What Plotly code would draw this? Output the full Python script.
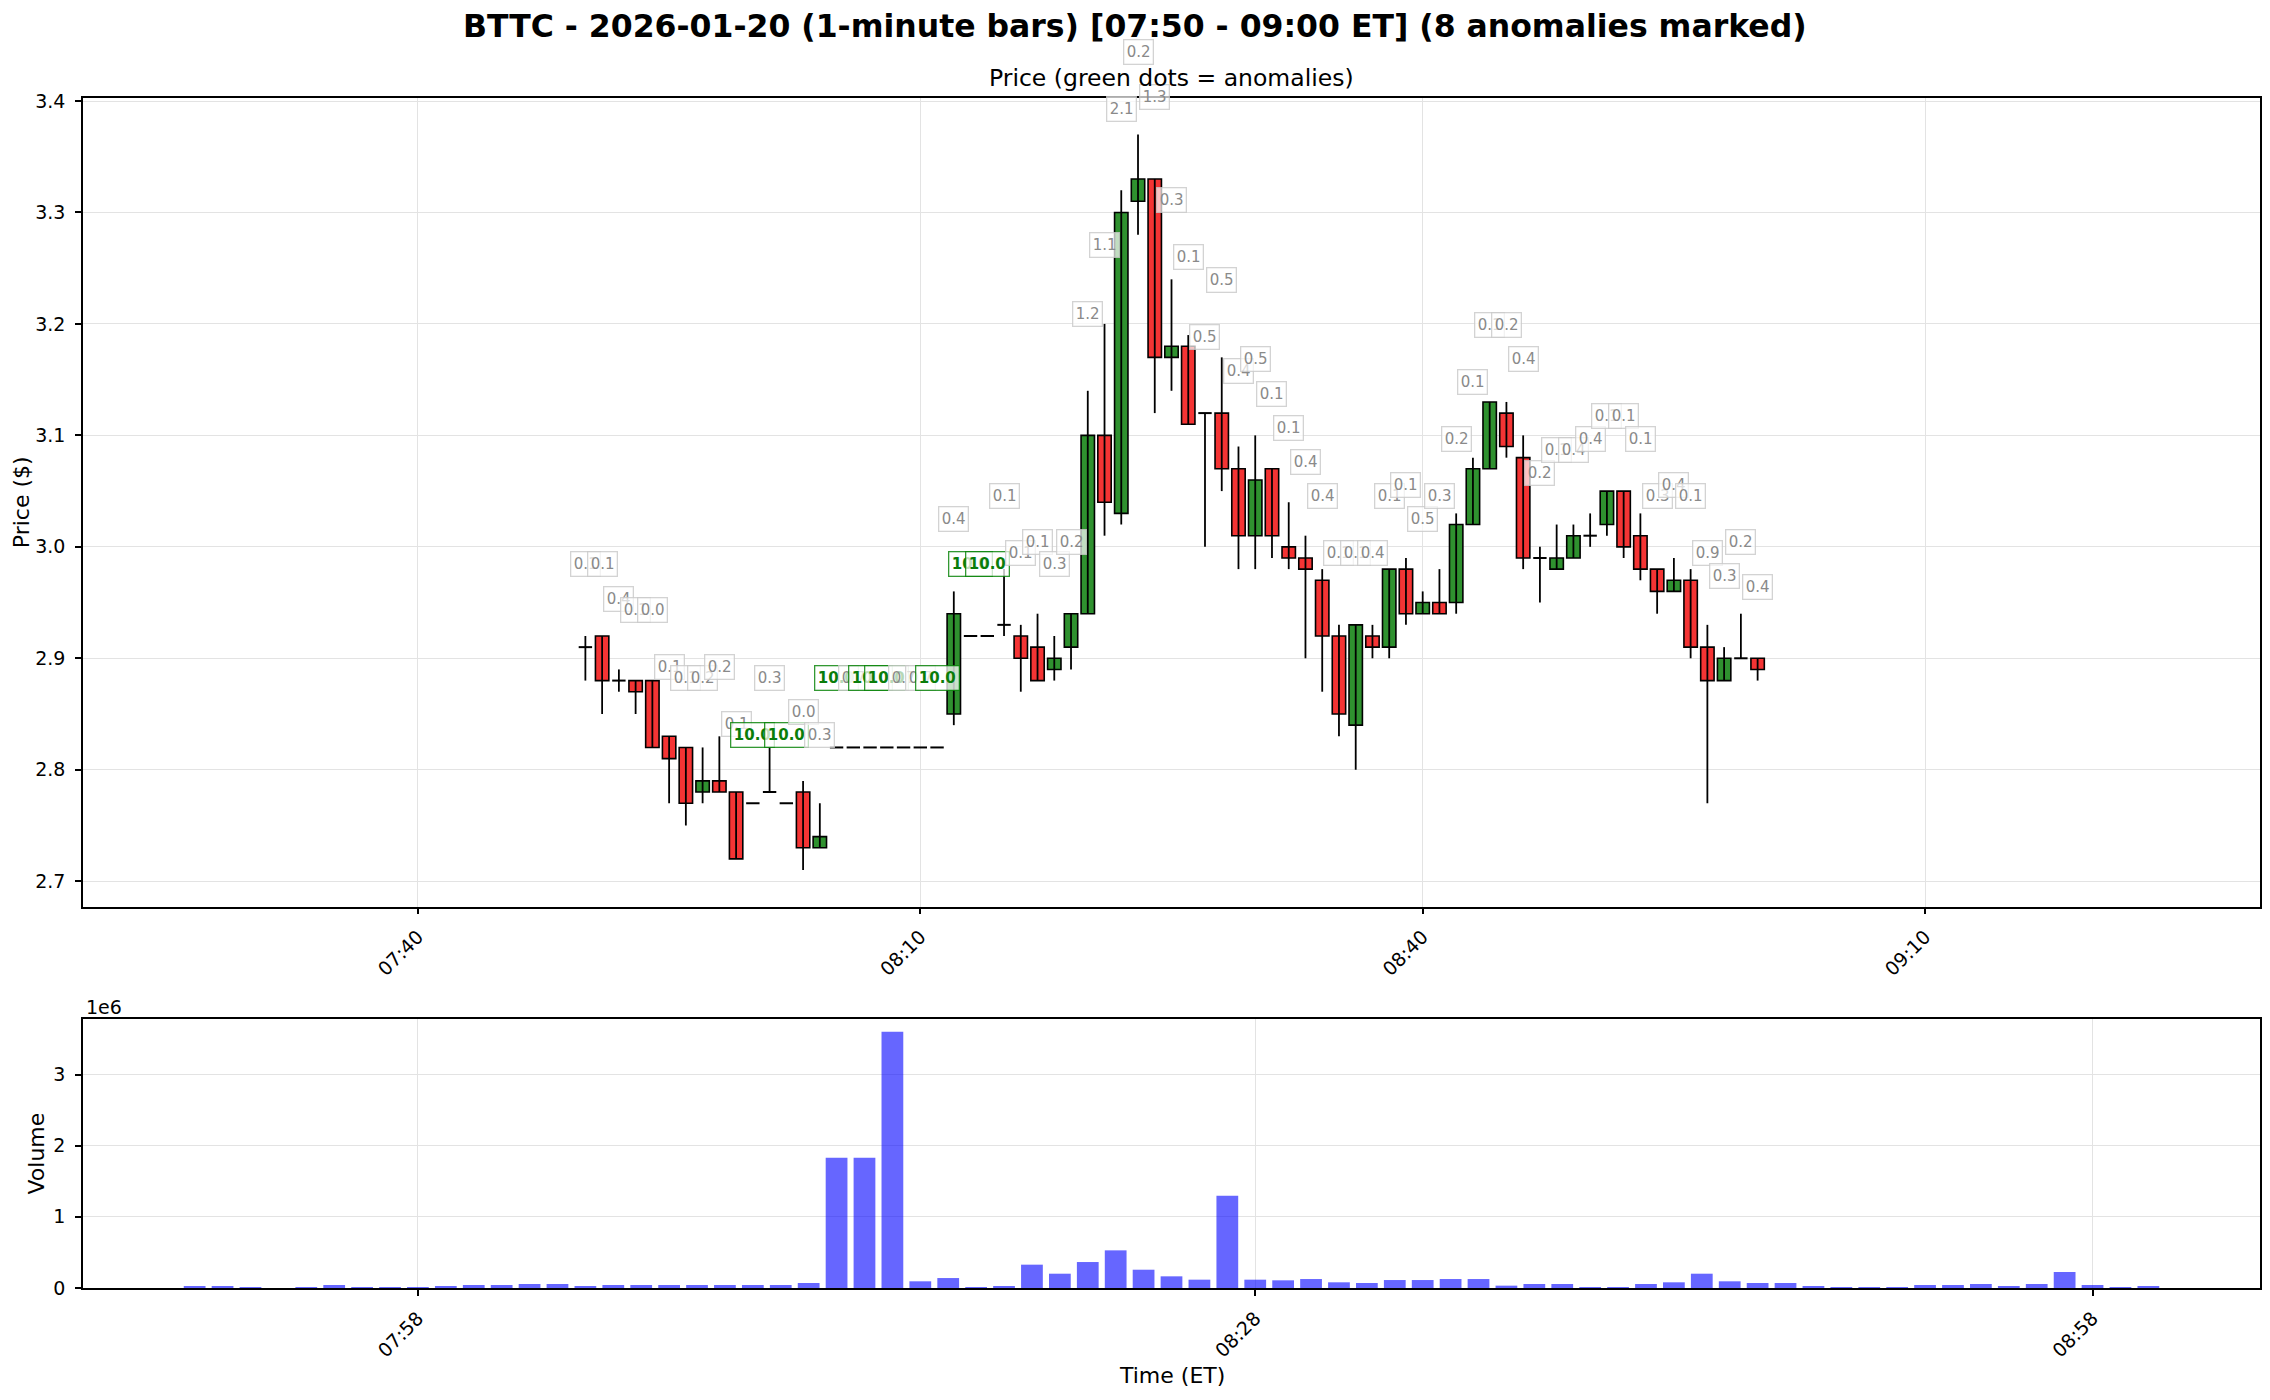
import pandas as pd
import plotly.graph_objects as go

# ---------------- data ----------------
times = pd.date_range("2026-01-20 07:50", "2026-01-20 09:00", freq="1min")

opens = [2.91, 2.92, 2.88, 2.88, 2.88, 2.83, 2.82, 2.78, 2.79, 2.78,
         2.77, 2.78, 2.77, 2.78, 2.73, 2.82, 2.82, 2.82, 2.82, 2.82,
         2.82, 2.82, 2.85, 2.92, 2.92, 2.93, 2.92, 2.91, 2.89, 2.91,
         2.94, 3.10, 3.03, 3.31, 3.33, 3.17, 3.18, 3.12, 3.12, 3.07,
         3.01, 3.07, 3.00, 2.99, 2.97, 2.92, 2.84, 2.92, 2.91, 2.98,
         2.94, 2.95, 2.95, 3.02, 3.07, 3.12, 3.08, 2.99, 2.98, 2.99,
         3.01, 3.02, 3.05, 3.01, 2.98, 2.96, 2.97, 2.91, 2.88, 2.90,
         2.90]
highs = [2.92, 2.92, 2.89, 2.88, 2.88, 2.83, 2.82, 2.82, 2.83, 2.78,
         2.77, 2.82, 2.77, 2.79, 2.77, 2.82, 2.82, 2.82, 2.82, 2.82,
         2.82, 2.82, 2.96, 2.92, 2.92, 2.98, 2.93, 2.94, 2.92, 2.94,
         3.14, 3.20, 3.32, 3.37, 3.33, 3.24, 3.19, 3.12, 3.17, 3.09,
         3.10, 3.07, 3.04, 3.01, 2.98, 2.93, 2.93, 2.93, 2.98, 2.99,
         2.96, 2.98, 3.03, 3.08, 3.13, 3.13, 3.10, 3.00, 3.02, 3.02,
         3.03, 3.05, 3.05, 3.03, 2.98, 2.99, 2.98, 2.93, 2.91, 2.94,
         2.90]
lows = [2.88, 2.85, 2.87, 2.85, 2.82, 2.77, 2.75, 2.77, 2.78, 2.72,
        2.77, 2.78, 2.77, 2.71, 2.73, 2.82, 2.82, 2.82, 2.82, 2.82,
        2.82, 2.82, 2.84, 2.92, 2.92, 2.92, 2.87, 2.88, 2.88, 2.89,
        2.94, 3.01, 3.02, 3.28, 3.12, 3.14, 3.11, 3.00, 3.05, 2.98,
        2.98, 2.99, 2.98, 2.90, 2.87, 2.83, 2.80, 2.90, 2.90, 2.93,
        2.94, 2.94, 2.94, 3.02, 3.07, 3.08, 2.98, 2.95, 2.98, 2.99,
        3.00, 3.01, 2.99, 2.97, 2.94, 2.96, 2.90, 2.77, 2.88, 2.90,
        2.88]
closes = [2.91, 2.88, 2.88, 2.87, 2.82, 2.81, 2.77, 2.79, 2.78, 2.72,
          2.77, 2.78, 2.77, 2.73, 2.74, 2.82, 2.82, 2.82, 2.82, 2.82,
          2.82, 2.82, 2.94, 2.92, 2.92, 2.93, 2.90, 2.88, 2.90, 2.94,
          3.10, 3.04, 3.30, 3.33, 3.17, 3.18, 3.11, 3.12, 3.07, 3.01,
          3.06, 3.01, 2.99, 2.98, 2.92, 2.85, 2.93, 2.91, 2.98, 2.94,
          2.95, 2.94, 3.02, 3.07, 3.13, 3.09, 2.99, 2.99, 2.99, 3.01,
          3.01, 3.05, 3.00, 2.98, 2.96, 2.97, 2.91, 2.88, 2.90, 2.90,
          2.89]
volumes = [28e3, 28e3, 14e3, 0, 14e3, 42e3, 14e3, 14e3, 14e3, 28e3,
           42e3, 42e3, 56e3, 56e3, 28e3, 42e3, 42e3, 42e3, 42e3, 42e3,
           42e3, 42e3, 70e3, 1.83e6, 1.83e6, 3.6e6, 94e3, 140e3, 14e3, 28e3,
           328e3, 201e3, 365e3, 529e3, 257e3, 164e3, 117e3, 1.296e6, 117e3, 108e3,
           126e3, 80e3, 70e3, 112e3, 112e3, 126e3, 126e3, 33e3, 56e3, 56e3,
           14e3, 14e3, 56e3, 80e3, 201e3, 94e3, 70e3, 70e3, 28e3, 14e3,
           14e3, 14e3, 42e3, 42e3, 56e3, 28e3, 56e3, 225e3, 42e3, 14e3,
           28e3]
labels = ["0.1", "0.1", "0.4", "0.1", "0.0", "0.1", "0.1", "0.2", "0.2", "0.1",
          "10.0", "0.3", "10.0", "0.0", "0.3", "10.0", "0.7", "10.0", "10.0", "0.7",
          "0.7", "10.0", "0.4", "10.0", "10.0", "0.1", "0.1", "0.1", "0.3", "0.2",
          "1.2", "1.1", "2.1", "0.2", "1.3", "0.3", "0.1", "0.5", "0.5", "0.4",
          "0.5", "0.1", "0.1", "0.4", "0.4", "0.1", "0.1", "0.4", "0.1", "0.1",
          "0.5", "0.3", "0.2", "0.1", "0.1", "0.2", "0.4", "0.2", "0.1", "0.4",
          "0.4", "0.1", "0.1", "0.1", "0.3", "0.4", "0.1", "0.9", "0.3", "0.2",
          "0.4"]
anomaly = [0, 0, 0, 0, 0, 0, 0, 0, 0, 0,
           1, 0, 1, 0, 0, 1, 0, 1, 1, 0,
           0, 1, 0, 1, 1, 0, 0, 0, 0, 0,
           0, 0, 0, 0, 0, 0, 0, 0, 0, 0,
           0, 0, 0, 0, 0, 0, 0, 0, 0, 0,
           0, 0, 0, 0, 0, 0, 0, 0, 0, 0,
           0, 0, 0, 0, 0, 0, 0, 0, 0, 0,
           0]

top_ticks = ["2026-01-20 07:40", "2026-01-20 08:10", "2026-01-20 08:40", "2026-01-20 09:10"]
vol_ticks = ["2026-01-20 07:58", "2026-01-20 08:28", "2026-01-20 08:58"]
price_ticks = [2.7, 2.8, 2.9, 3.0, 3.1, 3.2, 3.3, 3.4]
vol_tickvals = [0, 1e6, 2e6, 3e6]
vol_ticktext = ["0", "1", "2", "3"]

# ---------------- style ----------------
W, H = 2270, 1400
OFF = 8  # page body margin shifts the figure by 8 px right/down


def px(v):
    return (v - OFF) / W


def py(v):
    return 1 - (v - OFF) / H


XD = [px(83), px(2260)]
YD_TOP = [py(906.5), py(98)]
YD_BOT = [py(1288), py(1019)]
Y_RANGE = [2.6773, 3.4027]
GREEN = "#2f912f"
RED = "#f43434"
GRID = "#e3e3e3"
FONT = "DejaVu Sans"
MIN = pd.Timedelta(minutes=1)

body_x, body_base, body_h, body_col = [], [], [], []
flat_x, flat_y, wick_x, wick_y = [], [], [], []
for t, o, h, l, c in zip(times, opens, highs, lows, closes):
    if abs(c - o) > 1e-9:
        body_x.append(t)
        body_base.append(min(o, c))
        body_h.append(abs(c - o))
        body_col.append(GREEN if c > o else RED)
    else:
        flat_x += [t - 0.4 * MIN, t + 0.4 * MIN, None]
        flat_y += [o, o, None]
    if h - l > 1e-9:
        wick_x += [t, t, None]
        wick_y += [l, h, None]

fig = go.Figure()
fig.add_trace(go.Bar(x=body_x, y=body_h, base=body_base, width=0.8 * 60000,
                     marker=dict(color=body_col, line=dict(color="black", width=1.6)),
                     xaxis="x", yaxis="y", hoverinfo="skip"))
fig.add_trace(go.Scatter(x=flat_x, y=flat_y, mode="lines",
                         line=dict(color="black", width=2), xaxis="x", yaxis="y"))
fig.add_trace(go.Scatter(x=wick_x, y=wick_y, mode="lines",
                         line=dict(color="black", width=1.8), xaxis="x", yaxis="y"))
fig.add_trace(go.Bar(x=times, y=volumes, width=0.78 * 60000,
                     marker=dict(color="rgba(0,0,255,0.6)", line=dict(width=0)),
                     xaxis="x2", yaxis="y2"))

annotations = []
for t, h, txt, a in zip(times, highs, labels, anomaly):
    yv = h * 1.022
    if yv <= Y_RANGE[1]:
        yref, ypos = "y", yv
    else:
        yref = "paper"
        ypos = YD_TOP[0] + (yv - Y_RANGE[0]) / (Y_RANGE[1] - Y_RANGE[0]) * (YD_TOP[1] - YD_TOP[0])
    common = dict(x=t, y=ypos, xref="x", yref=yref, showarrow=False,
                  xanchor="center", yanchor="middle", borderwidth=1.3, borderpad=2.5)
    if a:
        annotations.append(dict(text="<b>" + txt + "</b>",
                                font=dict(size=15, color="#0a7d0a", family=FONT),
                                bgcolor="rgba(255,255,255,0.75)", bordercolor="rgba(0,128,0,0.8)",
                                **common))
    else:
        annotations.append(dict(text=txt,
                                font=dict(size=15, color="#8a8a8a", family=FONT),
                                bgcolor="rgba(255,255,255,0.7)", bordercolor="rgba(200,200,200,0.8)",
                                **common))

annotations += [
    dict(x=px(1135), y=py(26), xref="paper", yref="paper", showarrow=False,
         text="<b>BTTC - 2026-01-20 (1-minute bars) [07:50 - 09:00 ET] (8 anomalies marked)</b>",
         font=dict(size=31.5, family=FONT, color="black"), xanchor="center", yanchor="middle"),
    dict(x=(XD[0] + XD[1]) / 2, y=py(78), xref="paper", yref="paper", showarrow=False,
         text="Price (green dots = anomalies)", font=dict(size=23.5, family=FONT, color="black"),
         xanchor="center", yanchor="middle"),
    dict(x=px(21), y=(YD_TOP[0] + YD_TOP[1]) / 2, xref="paper", yref="paper", showarrow=False,
         text="Price ($)", textangle=-90, font=dict(size=22, family=FONT, color="black"),
         xanchor="center", yanchor="middle"),
    dict(x=px(36), y=(YD_BOT[0] + YD_BOT[1]) / 2, xref="paper", yref="paper", showarrow=False,
         text="Volume", textangle=-90, font=dict(size=22, family=FONT, color="black"),
         xanchor="center", yanchor="middle"),
    dict(x=(XD[0] + XD[1]) / 2, y=py(1375), xref="paper", yref="paper", showarrow=False,
         text="Time (ET)", font=dict(size=22, family=FONT, color="black"),
         xanchor="center", yanchor="middle"),
    dict(x=px(84), y=py(1007), xref="paper", yref="paper", showarrow=False,
         text="1e6", font=dict(size=19, family=FONT, color="black"),
         xanchor="left", yanchor="middle"),
]

axis_common = dict(showgrid=True, gridcolor=GRID, gridwidth=1, showline=True, mirror=True,
                   linecolor="black", linewidth=1.6, ticks="outside", ticklen=6, tickwidth=1.5,
                   tickcolor="black", zeroline=False, automargin=False,
                   tickfont=dict(size=19, family=FONT, color="black"))

fig.update_layout(
    width=W, height=H, margin=dict(l=0, r=0, t=0, b=0, autoexpand=False),
    paper_bgcolor="white", plot_bgcolor="white", showlegend=False, barmode="overlay",
    font=dict(family=FONT, color="black"),
    xaxis=dict(domain=XD, anchor="y", type="date",
               range=["2026-01-20 07:20", "2026-01-20 09:30"],
               tickvals=top_ticks, tickformat="%H:%M", tickangle=-45, ticklabelstandoff=4,
               **axis_common),
    yaxis=dict(domain=YD_TOP, anchor="x", range=Y_RANGE, tickvals=price_ticks,
               tickformat=".1f", ticklabelstandoff=6, **axis_common),
    xaxis2=dict(domain=XD, anchor="y2", type="date",
                range=["2026-01-20 07:46", "2026-01-20 09:04"],
                tickvals=vol_ticks, tickformat="%H:%M", tickangle=-45, ticklabelstandoff=4,
                **axis_common),
    yaxis2=dict(domain=YD_BOT, anchor="x2", range=[0, 3.78e6], tickvals=vol_tickvals,
                ticktext=vol_ticktext, ticklabelstandoff=6, **axis_common),
    annotations=annotations,
)

fig.write_html("out.html")
